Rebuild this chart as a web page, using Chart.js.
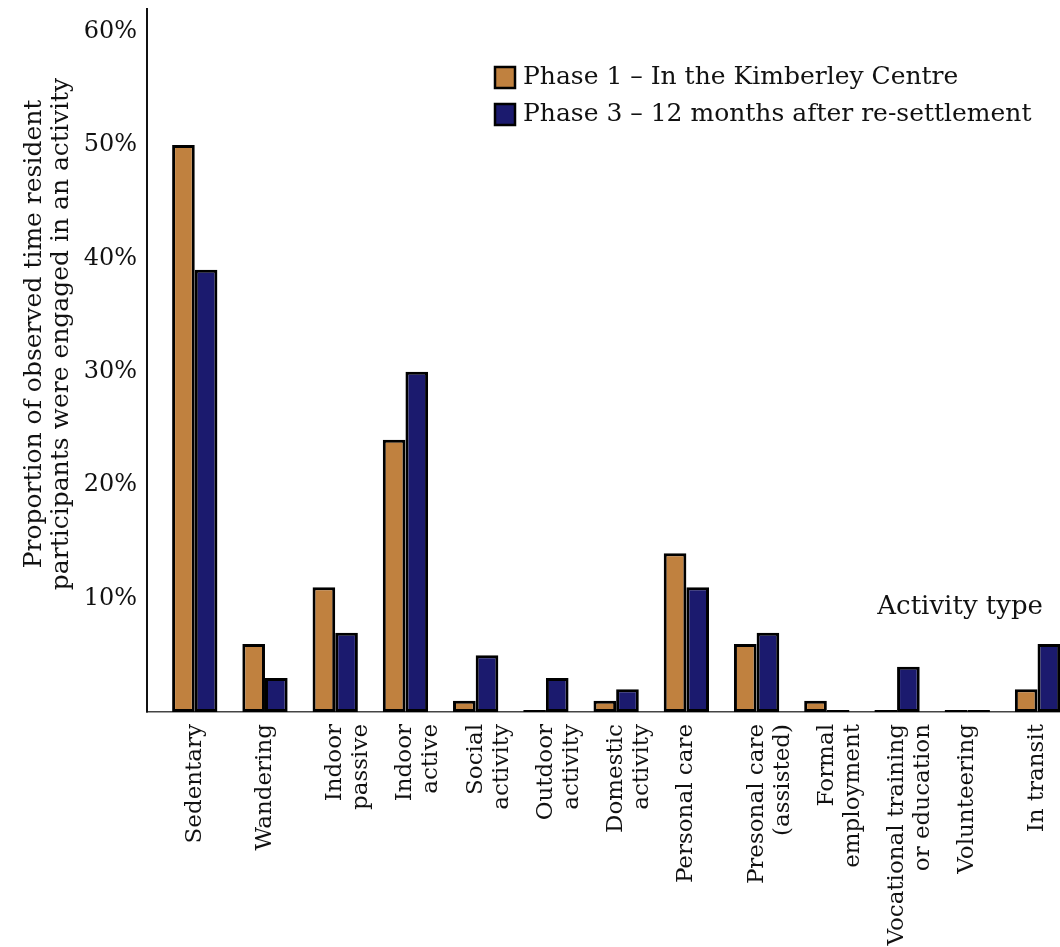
<!DOCTYPE html>
<html>
<head>
<meta charset="utf-8">
<script src="https://cdn.jsdelivr.net/npm/chart.js@4"></script>
<style>
  html, body { margin: 0; padding: 0; background: #fff; }
  canvas { display: block; }
</style>
</head>
<body>
<canvas id="chart" width="1060" height="947"></canvas>
<script>
// activity categories (multi-line labels as in the original)
const categories = [
  ['Sedentary'],
  ['Wandering'],
  ['Indoor', 'passive'],
  ['Indoor', 'active'],
  ['Social', 'activity'],
  ['Outdoor', 'activity'],
  ['Domestic', 'activity'],
  ['Personal care'],
  ['Presonal care', '(assisted)'],
  ['Formal', 'employment'],
  ['Vocational training', 'or education'],
  ['Volunteering'],
  ['In transit']
];

// percent of observed time
const phase1 = [50, 6, 11, 24, 1, 0, 1, 14, 6, 1, 0, 0, 2];
const phase3 = [39, 3, 7, 30, 5, 3, 2, 11, 7, 0, 4, 0, 6];

const seriesNames = ['Phase 1 \u2013 In the Kimberley Centre', 'Phase 3 \u2013 12 months after re-settlement'];
const yTicks = [10, 20, 30, 40, 50, 60];
const yTitle = ['Proportion of observed time resident', 'participants were engaged in an activity'];

const SERIF = '"DejaVu Serif", "Liberation Serif", serif';
const ORANGE = '#c0813f';
const NAVY = '#1b1a6e';

// categories sit on a numeric axis so the first group can stand off the y axis
const toPoints = arr => arr.map((v, i) => ({ x: i, y: v }));

// legend, y title and the loose x-axis title drawn on top
const overlay = {
  id: 'overlay',
  afterDraw(chart) {
    const ctx = chart.ctx;
    ctx.save();
    ctx.font = '25px ' + SERIF;
    ctx.textBaseline = 'middle';
    ctx.textAlign = 'left';
    chart.data.datasets.forEach((ds, i) => {
      const y = 77 + i * 37;
      ctx.fillStyle = ds.backgroundColor;
      ctx.fillRect(495, y - 10, 20, 21);
      ctx.lineWidth = 2.5;
      ctx.strokeStyle = '#000';
      ctx.strokeRect(495, y - 10, 20, 21);
      ctx.fillStyle = '#111';
      ctx.fillText(ds.label, 523, y);
    });
    ctx.textAlign = 'right';
    ctx.font = '26px ' + SERIF;
    ctx.fillText('Activity type', 1043, 607);

    // y axis title, two lines
    ctx.translate(0, 334);
    ctx.rotate(-Math.PI / 2);
    ctx.textAlign = 'center';
    ctx.font = '25px ' + SERIF;
    ctx.fillText(yTitle[0], 0, 34);
    ctx.fillText(yTitle[1], 0, 61);
    ctx.restore();
  }
};

new Chart(document.getElementById('chart'), {
  type: 'bar',
  data: {
    datasets: [
      { label: seriesNames[0], data: toPoints(phase1), backgroundColor: ORANGE },
      { label: seriesNames[1], data: toPoints(phase3), backgroundColor: NAVY }
    ]
  },
  options: {
    responsive: false,
    animation: false,
    layout: { padding: { left: 0, right: 0, top: 9, bottom: 0 } },
    datasets: {
      bar: {
        borderColor: '#000',
        borderWidth: 3,
        borderSkipped: false,
        minBarLength: 2,
        categoryPercentage: 0.645,
        barPercentage: 1
      }
    },
    plugins: {
      legend: { display: false },
      tooltip: { enabled: false }
    },
    scales: {
      x: {
        type: 'linear',
        offset: false,
        min: -0.68,
        max: 12.32,
        afterBuildTicks(scale) { scale.ticks = categories.map((c, i) => ({ value: i })); },
        grid: { display: false, drawTicks: false },
        border: { color: '#444', width: 1.5 },
        ticks: {
          color: '#111',
          font: { family: SERIF, size: 23, lineHeight: 1.13 },
          maxRotation: 90,
          minRotation: 90,
          padding: 12,
          autoSkip: false,
          callback: v => categories[v]
        },
        afterFit(scale) {
          scale.height = 235;
          scale.paddingLeft = 0;
          scale.paddingRight = 0;
        }
      },
      y: {
        min: 0,
        max: 62,
        afterBuildTicks(scale) { scale.ticks = yTicks.map(v => ({ value: v })); },
        grid: { display: false, drawOnChartArea: false, drawTicks: true, tickLength: 8, color: '#000', lineWidth: 1.5 },
        border: { color: '#111', width: 2 },
        ticks: {
          color: '#111',
          padding: 2,
          font: { family: SERIF, size: 24 },
          callback: v => v + '%'
        },
        afterFit(scale) {
          scale.width = 147;
          scale.paddingTop = 0;
          scale.paddingBottom = 0;
        }
      }
    }
  },
  plugins: [overlay]
});
</script>
</body>
</html>
